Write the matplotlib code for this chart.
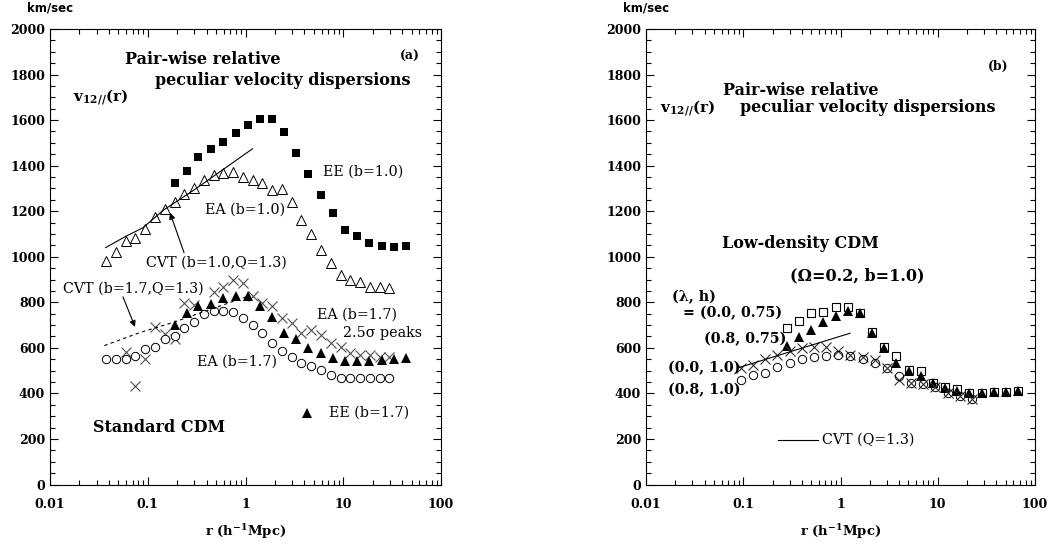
import matplotlib
matplotlib.use("Agg")
import matplotlib.pyplot as plt
from matplotlib.ticker import FixedLocator, LogLocator, MultipleLocator, NullFormatter

plt.rcParams['font.family'] = ['DejaVu Serif']
plt.rcParams['mathtext.fontset'] = 'custom'
plt.rcParams['mathtext.rm'] = 'DejaVu Serif:bold'
plt.rcParams['mathtext.bf'] = 'DejaVu Serif:bold'
plt.rcParams['mathtext.it'] = 'DejaVu Serif:italic:bold'

# ---------------- data: panel (a) Standard CDM ----------------
r_grid_a = [0.19, 0.25, 0.33, 0.44, 0.59, 0.80, 1.06, 1.41, 1.87, 2.48,
            3.29, 4.36, 5.92, 7.85, 10.4, 13.8, 18.3, 24.9, 33.0, 43.9]
ee_b10 = [1325, 1378, 1440, 1475, 1505, 1545, 1580, 1607, 1607, 1549,
          1457, 1365, 1273, 1193, 1119, 1092, 1062, 1048, 1044, 1048]
ee_b17 = [701, 754, 785, 793, 820, 829, 829, 785, 736, 666,
          640, 600, 578, 556, 543, 543, 543, 547, 552, 556]

r_fine_a = [0.0374, 0.0471, 0.0593, 0.0746, 0.0939, 0.118, 0.149, 0.188, 0.236, 0.297,
            0.374, 0.471, 0.593, 0.746, 0.939, 1.18, 1.49, 1.88, 2.36, 2.97,
            3.74, 4.71, 5.93, 7.46, 9.39, 11.8, 14.9, 18.8, 23.6, 29.7]
ea_b10 = [982, 1022, 1070, 1084, 1123, 1176, 1211, 1242, 1277, 1303,
          1338, 1360, 1369, 1374, 1352, 1338, 1325, 1295, 1299, 1242,
          1163, 1101, 1031, 974, 921, 899, 890, 868, 868, 864]
ea_b17 = [552, 552, 552, 565, 596, 604, 640, 653, 688, 714,
          749, 763, 763, 758, 732, 701, 666, 622, 587, 560,
          534, 521, 503, 481, 468, 468, 468, 468, 468, 468]

r_peaks = [0.0593, 0.0746, 0.0939, 0.118, 0.149, 0.188, 0.236, 0.297,
           0.471, 0.593, 0.746, 0.939, 1.18, 1.49, 1.88, 2.36, 2.97,
           3.74, 4.71, 5.93, 7.46, 9.39, 11.8, 14.9, 18.8, 23.6, 29.7]
ea_peaks = [582, 433, 552, 692, 662, 640, 798, 789,
            846, 868, 899, 886, 829, 798, 785, 732, 710,
            666, 679, 657, 622, 604, 578, 569, 569, 560, 560]

cvt10_r = [0.037, 0.061, 0.089, 0.146, 0.288, 1.18]
cvt10_v = [1040, 1092, 1127, 1206, 1289, 1474]
cvt17_r = [0.036, 0.083, 0.18, 1.1]
cvt17_v = [610, 667, 711, 829]

# ---------------- data: panel (b) Low-density CDM ----------------
r_grid_b = [0.282, 0.376, 0.501, 0.668, 0.891, 1.19, 1.58, 2.11, 2.82, 3.76,
            5.01, 6.68, 8.91, 11.9, 15.8, 21.1, 28.2, 37.6, 50.1, 66.8]
l00_h075 = [688, 719, 754, 758, 780, 780, 754, 670, 604, 565,
            503, 499, 446, 429, 420, 402, 402, 407, 407, 411]
l08_h075 = [609, 648, 679, 714, 741, 763, 754, 666, 600, 534,
            499, 477, 446, 424, 411, 402, 402, 407, 407, 411]

r_fine_b = [0.0948, 0.126, 0.169, 0.225, 0.300, 0.400, 0.533, 0.711, 0.948, 1.26,
            1.69, 2.25, 3.00, 4.00, 5.33, 7.11, 9.48, 12.6, 16.9, 22.5]
l00_h10 = [512, 525, 552, 569, 587, 600, 604, 604, 587, 569,
           560, 547, 512, 459, 446, 442, 429, 402, 389, 376]
l08_h10 = [459, 481, 490, 516, 534, 552, 560, 565, 569, 565,
           552, 534, 512, 477, 446, 442, 429, 402, 389, 376]

cvt_b_r = [0.088, 1.25]
cvt_b_v = [512, 664]

x_ticks = [0.01, 0.1, 1, 10, 100]
x_ticklabels = ['0.01', '0.1', '1', '10', '100']
y_ticks = list(range(0, 2001, 200))

# ---------------- figure ----------------
W, H = 1048, 543
fig = plt.figure(figsize=(W / 100, H / 100), dpi=100)
ax1 = fig.add_axes([50 / W, 1 - 484.5 / H, 391 / W, 455.5 / H])
ax2 = fig.add_axes([646 / W, 1 - 484.5 / H, 389 / W, 455.5 / H])

tickfont = dict(family='DejaVu Serif', weight='bold', size=9)

for ax in (ax1, ax2):
    ax.set_xscale('log')
    ax.set_xlim(0.01, 100)
    ax.set_ylim(0, 2000)
    ax.xaxis.set_major_locator(FixedLocator(x_ticks))
    ax.set_xticklabels(x_ticklabels, fontdict=tickfont)
    ax.xaxis.set_minor_locator(LogLocator(base=10, subs=range(2, 10), numticks=20))
    ax.xaxis.set_minor_formatter(NullFormatter())
    ax.set_yticks(y_ticks)
    ax.set_yticklabels([str(v) for v in y_ticks], fontdict=tickfont)
    ax.yaxis.set_minor_locator(MultipleLocator(50))
    ax.tick_params(which='both', direction='in', top=True, right=True, width=0.8, color='black')
    ax.tick_params(which='major', length=6)
    ax.tick_params(which='minor', length=3.5)
    ax.tick_params(axis='x', which='major', pad=9.5)
    ax.tick_params(axis='y', which='major', pad=3.5)
    for s in ax.spines.values():
        s.set_linewidth(0.8)
    ax.set_xlabel('r (h$^{-1}$Mpc)', fontsize=9.5, fontweight='bold', labelpad=8)
    ax.text(0.0, 1.046, 'km/sec', transform=ax.transAxes, ha='center', va='center',
            family='DejaVu Sans', fontweight='bold', fontsize=8.5)

lab = dict(fontsize=10.3, va='center')
bold_big = dict(fontsize=11.5, fontweight='bold', va='center')

# ---- panel (a) ----
ax1.plot(r_grid_a, ee_b10, 's', color='black', ms=6, mew=0)
ax1.plot(r_fine_a, ea_b10, '^', mfc='white', mec='black', ms=6.5, mew=0.7)
ax1.plot(r_peaks, ea_peaks, 'x', color='#505050', ms=6.5, mew=0.8)
ax1.plot(r_fine_a, ea_b17, 'o', mfc='white', mec='black', ms=6, mew=0.7)
ax1.plot(r_grid_a, ee_b17, '^', color='black', ms=6.5, mew=0)
ax1.plot(cvt10_r, cvt10_v, '-', color='black', lw=0.8)
ax1.plot(cvt17_r, cvt17_v, color='black', lw=0.8, linestyle=(0, (3, 3)))

ax1.text(0.192, 0.934, 'Pair-wise relative', transform=ax1.transAxes, **bold_big)
ax1.text(0.269, 0.888, 'peculiar velocity dispersions', transform=ax1.transAxes, **bold_big)
ax1.text(0.059, 0.851, r'$\mathrm{v}_{\mathit{12//}}\mathrm{(r)}$', transform=ax1.transAxes,
         fontsize=11, va='center')
ax1.text(0.895, 0.939, '(a)', transform=ax1.transAxes, fontsize=9, fontweight='bold', va='center')
ax1.text(0.698, 0.686, 'EE (b=1.0)', transform=ax1.transAxes, **lab)
ax1.text(0.396, 0.603, 'EA (b=1.0)', transform=ax1.transAxes, **lab)
ax1.text(0.246, 0.486, 'CVT (b=1.0,Q=1.3)', transform=ax1.transAxes, **lab)
ax1.text(0.033, 0.431, 'CVT (b=1.7,Q=1.3)', transform=ax1.transAxes, **lab)
ax1.text(0.683, 0.372, 'EA (b=1.7)', transform=ax1.transAxes, **lab)
ax1.text(0.749, 0.333, '2.5σ peaks', transform=ax1.transAxes, **lab)
ax1.text(0.376, 0.269, 'EA (b=1.7)', transform=ax1.transAxes, **lab)
ax1.plot([0.657], [0.157], '^', color='black', ms=6.5, mew=0, transform=ax1.transAxes)
ax1.text(0.714, 0.157, 'EE (b=1.7)', transform=ax1.transAxes, **lab)
ax1.text(0.110, 0.126, 'Standard CDM', transform=ax1.transAxes, **bold_big)

arrow = dict(arrowstyle='-|>', color='black', lw=0.8, mutation_scale=9, shrinkA=0, shrinkB=0)
ax1.annotate('', xy=(0.169, 1193), xytext=(0.235, 1018), arrowprops=arrow)
ax1.annotate('', xy=(0.0741, 692), xytext=(0.0558, 824), arrowprops=arrow)

# ---- panel (b) ----
ax2.plot(r_grid_b, l00_h075, 's', mfc='white', mec='black', ms=6, mew=0.8)
ax2.plot(r_grid_b, l08_h075, '^', color='black', ms=6.5, mew=0)
ax2.plot(r_fine_b, l00_h10, 'x', color='#303030', ms=6.5, mew=0.8)
ax2.plot(r_fine_b, l08_h10, 'o', mfc='none', mec='black', ms=6, mew=0.7)
ax2.plot(cvt_b_r, cvt_b_v, '-', color='black', lw=0.8)

ax2.text(0.879, 0.917, '(b)', transform=ax2.transAxes, fontsize=9, fontweight='bold', va='center')
ax2.text(0.198, 0.866, 'Pair-wise relative', transform=ax2.transAxes, **bold_big)
ax2.text(0.036, 0.827, r'$\mathrm{v}_{\mathit{12//}}\mathrm{(r)}$', transform=ax2.transAxes,
         fontsize=11, va='center')
ax2.text(0.242, 0.827, 'peculiar velocity dispersions', transform=ax2.transAxes, **bold_big)
ax2.text(0.195, 0.528, 'Low-density CDM', transform=ax2.transAxes, **bold_big)
ax2.text(0.370, 0.458, '(Ω=0.2, b=1.0)', transform=ax2.transAxes, **bold_big)
ax2.text(0.067, 0.412, '(λ, h)', transform=ax2.transAxes, fontweight='bold', **lab)
ax2.text(0.095, 0.376, '= (0.0, 0.75)', transform=ax2.transAxes, fontweight='bold', **lab)
ax2.text(0.149, 0.319, '(0.8, 0.75)', transform=ax2.transAxes, fontweight='bold', **lab)
ax2.text(0.057, 0.256, '(0.0, 1.0)', transform=ax2.transAxes, fontweight='bold', **lab)
ax2.text(0.057, 0.207, '(0.8, 1.0)', transform=ax2.transAxes, fontweight='bold', **lab)
ax2.plot([0.339, 0.442], [0.098, 0.098], '-', color='black', lw=0.8, transform=ax2.transAxes)
ax2.text(0.452, 0.098, 'CVT (Q=1.3)', transform=ax2.transAxes, **lab)

fig.savefig('out.png', dpi=100, facecolor='white')
